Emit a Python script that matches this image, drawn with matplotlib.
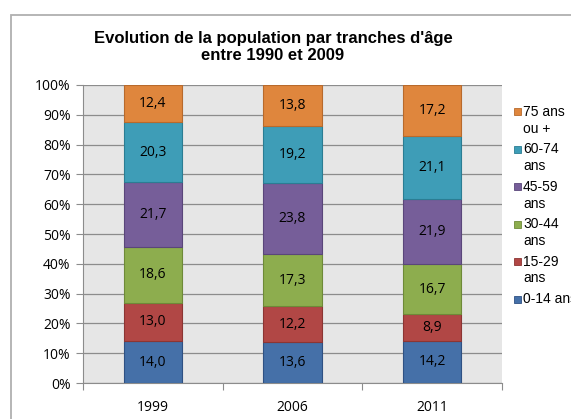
import matplotlib.pyplot as plt
import matplotlib.patches as mpatches
import numpy as np

years = ['1999', '2006', '2011']
groups = ['0-14 ans', '15-29\nans', '30-44\nans', '45-59\nans', '60-74\nans', '75 ans\nou +']
v_0_14 = [14.0, 13.6, 14.2]
v_15_29 = [13.0, 12.2, 8.9]
v_30_44 = [18.6, 17.3, 16.7]
v_45_59 = [21.7, 23.8, 21.9]
v_60_74 = [20.3, 19.2, 21.1]
v_75 = [12.4, 13.8, 17.2]
colors = ['#4570a8', '#b14745', '#8dad4e', '#765e99', '#3e9db7', '#df863d']
edges = ['#2f5183', '#8c3533', '#6e8a38', '#5a467a', '#2b7d93', '#b86a2c']

series = np.array([v_0_14, v_15_29, v_30_44, v_45_59, v_60_74, v_75])
shares = series / series.sum(axis=0)

fig = plt.figure(figsize=(5.71, 4.19), dpi=100)
W, H = 571, 419
# outer chart frame
fig.patches.append(mpatches.Rectangle((11 / W, -0.05), 1.1, 1 - 15 / H + 0.05,
                                      transform=fig.transFigure, fill=False,
                                      edgecolor='#b0b0b0', lw=1.3))

ax = fig.add_axes([83 / W, 1 - 383 / H, (502 - 83) / W, (383 - 85) / H])
ax.set_facecolor('#e6e6e6')

x = np.arange(len(years))
bottom = np.zeros(len(years))
for i in range(len(groups)):
    ax.bar(x, shares[i], 0.42, bottom=bottom, color=colors[i],
           edgecolor=edges[i], lw=0.8, zorder=3)
    for j in range(len(years)):
        ax.text(x[j], bottom[j] + shares[i][j] / 2,
                f'{series[i][j]:.1f}'.replace('.', ','),
                ha='center', va='center', fontsize=10, family='Open Sans', zorder=4)
    bottom += shares[i]

ax.set_xlim(-0.5, 2.5)
ax.set_ylim(0, 1)
ax.set_yticks(np.arange(0, 1.01, 0.1))
ax.set_yticklabels([f'{int(round(t * 100))}%' for t in np.arange(0, 1.01, 0.1)],
                   fontsize=10, family='Open Sans')
ax.yaxis.grid(True, color='#8c8c8c', lw=0.9, zorder=1)
ax.set_xticks([-0.5, 0.5, 1.5, 2.5])
ax.set_xticklabels([])
ax.set_xticks(x, minor=True)
ax.set_xticklabels(years, minor=True, fontsize=10, family='Open Sans')
ax.tick_params(axis='x', which='minor', length=0, pad=12)
ax.tick_params(axis='x', which='major', length=5, color='#8c8c8c')
ax.tick_params(axis='y', length=5, color='#8c8c8c', pad=4)
for s in ['top', 'right']:
    ax.spines[s].set_visible(False)
for s in ['left', 'bottom']:
    ax.spines[s].set_color('#8c8c8c')

fig.text(273 / W, 1 - 47 / H, "Evolution de la population par tranches d'âge\nentre 1990 et 2009",
         ha='center', va='center', fontsize=12, fontweight='bold',
         family='Liberation Sans', linespacing=1.2)

# legend, top entry first, square aligned with first text line
for k, i in enumerate(range(len(groups) - 1, -1, -1)):
    yc = 1 - (112 + 37.4 * k) / H
    fig.patches.append(mpatches.Rectangle((514 / W, yc - 3.5 / H), 7 / W, 7 / H,
                                          transform=fig.transFigure,
                                          facecolor=colors[i], edgecolor=edges[i], lw=0.6))
    fig.text(523 / W, yc + 7 / H, groups[i], ha='left', va='top', fontsize=10,
             family='Liberation Sans', linespacing=1.25)

fig.savefig('out.png', dpi=100)
